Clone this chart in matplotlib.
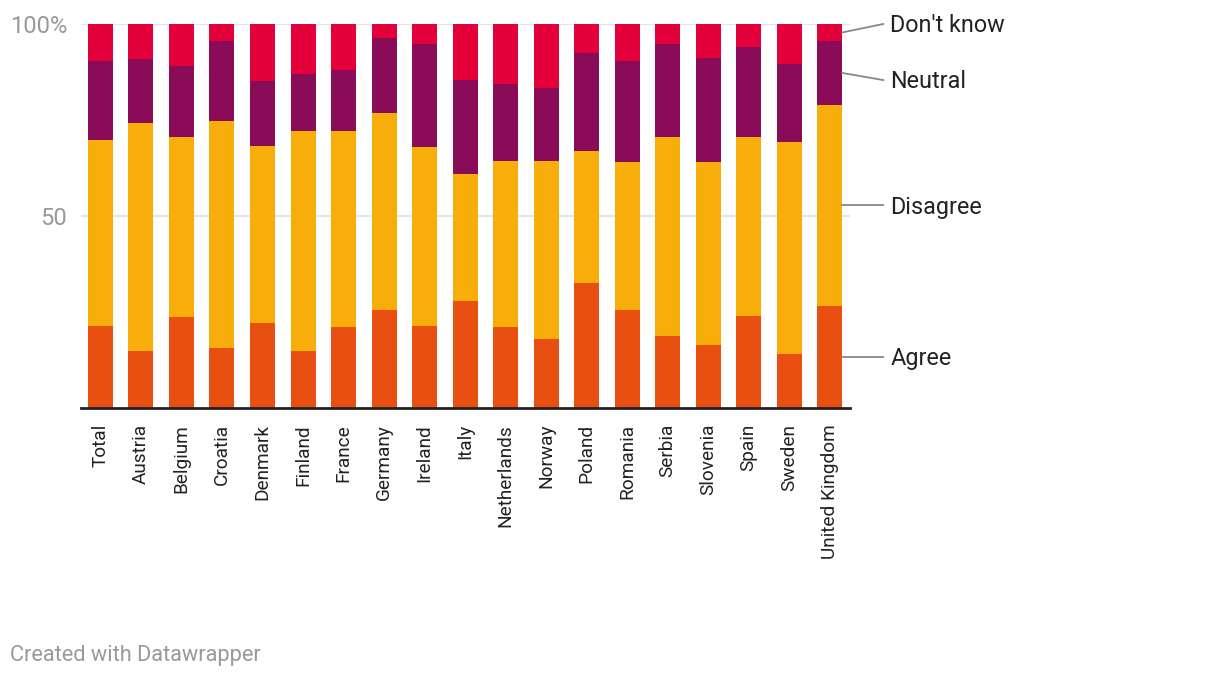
import matplotlib
matplotlib.use("Agg")
import matplotlib.pyplot as plt
import numpy as np

countries = ["Total", "Austria", "Belgium", "Croatia", "Denmark", "Finland", "France",
             "Germany", "Ireland", "Italy", "Netherlands", "Norway", "Poland", "Romania",
             "Serbia", "Slovenia", "Spain", "Sweden", "United Kingdom"]
agree = [21.4, 14.8, 23.7, 15.6, 22.1, 14.8, 21.1, 25.5, 21.4, 27.9, 21.1, 18.0, 32.6, 25.5,
         18.8, 16.4, 24.0, 14.1, 26.6]
disagree = [48.4, 59.4, 46.9, 59.1, 46.1, 57.3, 51.0, 51.3, 46.6, 33.0, 43.2, 46.3, 34.3, 38.6,
            51.8, 47.7, 46.6, 55.2, 52.3]
neutral = [20.6, 16.7, 18.5, 20.9, 17.0, 14.9, 15.9, 19.6, 26.9, 24.5, 20.1, 19.0, 25.5, 26.3,
           24.3, 27.0, 23.4, 20.3, 16.7]
dont_know = [9.6, 9.1, 10.9, 4.4, 14.8, 13.0, 12.0, 3.6, 5.1, 14.6, 15.6, 16.7, 7.6, 9.6,
             5.1, 8.9, 6.0, 10.4, 4.4]
series_names = ["Agree", "Disagree", "Neutral", "Don't know"]
colors = ["#E84F10", "#F8AE0A", "#8A0B57", "#E4003A"]
y_ticks = [50, 100]
y_tick_labels = ["50", "100%"]

plt.rcParams['font.family'] = ['Roboto', 'DejaVu Sans']

fig = plt.figure(figsize=(12.2, 6.76), dpi=100)
ax = fig.add_axes([81/1220, 1 - 408/676, (850-81)/1220, (408-24)/676])

x = np.arange(len(countries))
series = [agree, disagree, neutral, dont_know]
bottom = np.zeros(len(countries))
width = 0.617
for vals, c in zip(series, colors):
    v = np.array(vals)
    ax.bar(x, v, width, bottom=bottom, color=c, zorder=2)
    bottom += v

ax.set_xlim(-0.48, len(countries) - 0.5)
ax.set_ylim(0, 100)

for t in y_ticks:
    ax.axhline(t, color="#e5e5e5", lw=1.5, zorder=1)
ax.set_yticks(y_ticks)
ax.set_yticklabels(y_tick_labels, fontsize=17, color="#999999")
ax.tick_params(axis='y', length=0, pad=10)
ax.set_xticks(x)
ax.set_xticklabels(countries, rotation=90, fontsize=13.7, color="#222222", va='top', ha='center')
ax.tick_params(axis='x', length=0, pad=11.5)
for s in ["top", "right", "left"]:
    ax.spines[s].set_visible(False)
ax.spines["bottom"].set_color("#222222")
ax.spines["bottom"].set_linewidth(2)
ax.spines["bottom"].set_zorder(3)

# direct labels with leader lines for the last bar
last = len(countries) - 1
edge = last + width / 2
cum = np.cumsum([s[last] for s in series])
starts = np.concatenate([[0], cum[:-1]])
mids = (starts + cum) / 2
label_y = [mids[0], mids[1], 85.4, 100]
line_end = (883 - 100.5) / 40.5
text_x = (890 - 100.5) / 40.5
for name, m, ly in zip(series_names, mids, label_y):
    ax.plot([edge, line_end], [m, ly], color="#888888", lw=1.3, clip_on=False, zorder=3)
    ax.text(text_x, ly - 0.5, name, fontsize=16.8, color="#222222", va='center', ha='left')

fig.text(10/1220, 1 - 655/676, "Created with Datawrapper", fontsize=15.7, color="#999999",
         va='center', ha='left')

fig.savefig("out.png", dpi=100)
